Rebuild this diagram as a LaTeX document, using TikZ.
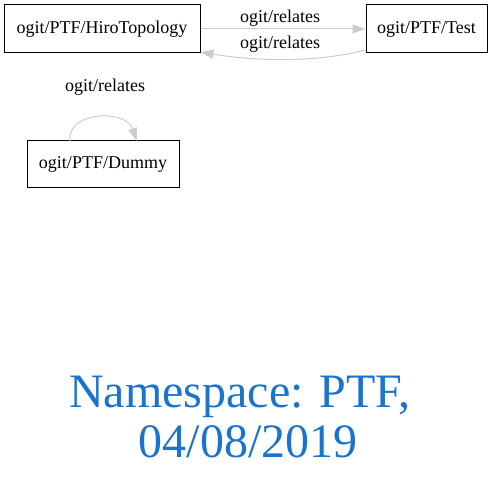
\documentclass[tikz,border=0pt]{standalone}
\usepackage{fontspec}
\setmainfont{Liberation Serif}
\usetikzlibrary{arrows.meta}
\definecolor{edgegray}{RGB}{204,204,204}
\definecolor{titleblue}{RGB}{26,115,204}
\begin{document}
\begin{tikzpicture}[x=1pt,y=-1pt,
  box/.style={draw=black,line width=1pt,minimum height=48pt,inner xsep=0pt,font=\fontsize{18}{20}\selectfont},
  lbl/.style={font=\fontsize{18}{20}\selectfont,inner sep=0pt,anchor=base},
  rel/.style={draw=edgegray,line width=1pt,-{Triangle[length=13pt,width=9pt,fill=edgegray]}},
  ttl/.style={text=titleblue,font=\fontsize{48}{50}\selectfont,inner sep=0pt,anchor=base}]
\useasboundingbox (0,0) rectangle (493,484);
\node[box,minimum width=196pt] (hiro) at (102,29) {ogit/PTF/HiroTopology};
\node[box,minimum width=121pt] (test) at (426.5,29) {ogit/PTF/Test};
\node[box,minimum width=152pt,minimum height=47pt] (dummy) at (103,164.5) {ogit/PTF/Dummy};
\draw[rel] (hiro.east) -- (test.west);
\node[lbl] (l1) at (280,23) {ogit/relates};
\coordinate (b1) at ([yshift=-21pt]test.west);
\coordinate (b2) at ([yshift=-23pt]hiro.east);
\draw[rel] (b1) .. controls (320,62) and (260,62) .. (b2);
\node[lbl] (l2) at (280,49) {ogit/relates};
\coordinate (s1) at (70,141);
\coordinate (s2) at (137,141);
\draw[rel] (s1) .. controls (66,112) and (125,108) .. (s2);
\node[lbl] (l3) at (105,92) {ogit/relates};
\node[ttl] (t1) at (240,407) {Namespace: PTF,};
\node[ttl] (t2) at (248,457) {04/08/2019};
\end{tikzpicture}
\end{document}
